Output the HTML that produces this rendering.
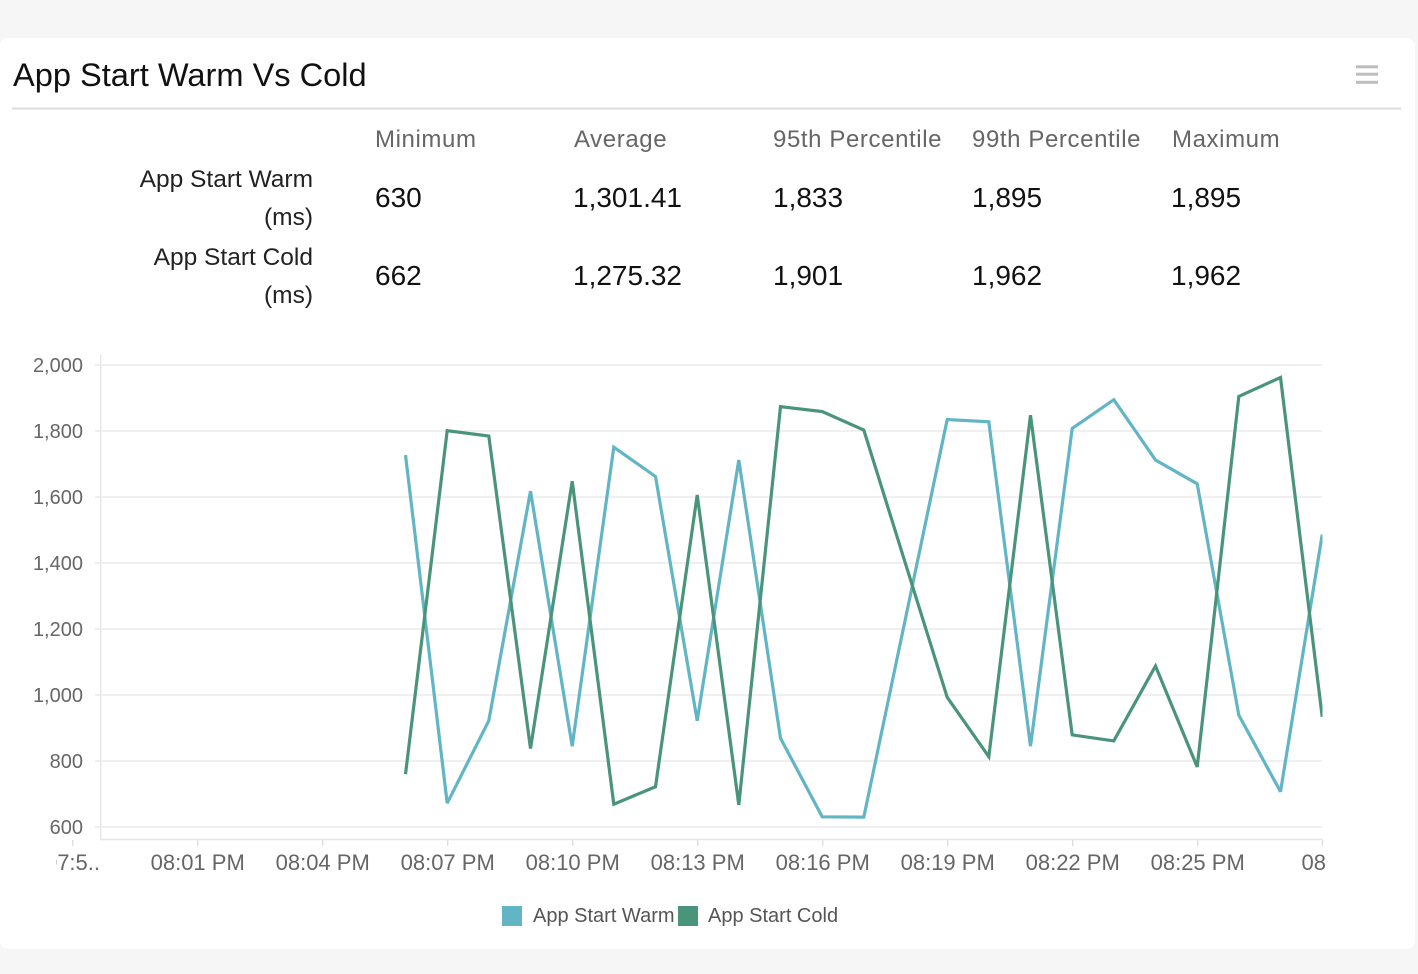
<!DOCTYPE html>
<html>
<head>
<meta charset="utf-8">
<style>
  html, body { margin:0; padding:0; background:#f6f6f6; }
  body { width:1418px; height:974px; overflow:hidden; }
  svg { display:block; }
  text { font-family: "Liberation Sans", sans-serif; }
</style>
</head>
<body>
<svg width="1418" height="974" viewBox="0 0 1418 974" xmlns="http://www.w3.org/2000/svg">
  <defs>
    <clipPath id="plotclip"><rect x="101" y="340" width="1221.5" height="500"/></clipPath>
    <clipPath id="leftlab"><rect x="56" y="840" width="60" height="40"/></clipPath>
  </defs>
  <rect x="0" y="0" width="1418" height="974" fill="#f6f6f6"/>
  <!-- card -->
  <rect x="0" y="38" width="1415" height="911" rx="8" ry="8" fill="#ffffff"/>

  <!-- title -->
  <text x="13" y="86" font-size="32.6" fill="#111">App Start Warm Vs Cold</text>
  <line x1="12" y1="108.5" x2="1401" y2="108.5" stroke="#dcdcdc" stroke-width="2"/>
  <!-- menu icon -->
  <rect x="1356" y="65.3" width="22" height="3" fill="#bdbdbd"/>
  <rect x="1356" y="72.7" width="22" height="3" fill="#bdbdbd"/>
  <rect x="1356" y="80.8" width="22" height="3" fill="#bdbdbd"/>

  <!-- table header -->
  <g font-size="24" fill="#666" letter-spacing="0.6">
    <text x="375" y="147">Minimum</text>
    <text x="574" y="147">Average</text>
    <text x="773" y="147">95th Percentile</text>
    <text x="972" y="147">99th Percentile</text>
    <text x="1172" y="147">Maximum</text>
  </g>
  <!-- row labels -->
  <g font-size="24.5" fill="#222" text-anchor="end">
    <text x="313" y="187">App Start Warm</text>
    <text x="313" y="225">(ms)</text>
    <text x="313" y="265">App Start Cold</text>
    <text x="313" y="303">(ms)</text>
  </g>
  <!-- values -->
  <g font-size="28" fill="#111">
    <text x="375" y="207">630</text>
    <text x="573" y="207">1,301.41</text>
    <text x="773" y="207">1,833</text>
    <text x="972" y="207">1,895</text>
    <text x="1171" y="207">1,895</text>
    <text x="375" y="285">662</text>
    <text x="573" y="285">1,275.32</text>
    <text x="773" y="285">1,901</text>
    <text x="972" y="285">1,962</text>
    <text x="1171" y="285">1,962</text>
  </g>

  <!-- gridlines -->
  <g stroke="#ebebeb" stroke-width="1.5">
    <line x1="95" y1="365" x2="1322" y2="365"/>
    <line x1="95" y1="431" x2="1322" y2="431"/>
    <line x1="95" y1="497" x2="1322" y2="497"/>
    <line x1="95" y1="563" x2="1322" y2="563"/>
    <line x1="95" y1="629" x2="1322" y2="629"/>
    <line x1="95" y1="695" x2="1322" y2="695"/>
    <line x1="95" y1="761" x2="1322" y2="761"/>
    <line x1="95" y1="827" x2="1322" y2="827"/>
  </g>
  <!-- axes -->
  <line x1="100.7" y1="355" x2="100.7" y2="840" stroke="#e6e6e6" stroke-width="1.5"/>
  <line x1="100" y1="839.5" x2="1323" y2="839.5" stroke="#e6e6e6" stroke-width="1.5"/>
  <g stroke="#e0e0e0" stroke-width="1.5">
    <line x1="72.7" y1="840" x2="72.7" y2="846"/>
    <line x1="197.7" y1="840" x2="197.7" y2="846"/>
    <line x1="322.7" y1="840" x2="322.7" y2="846"/>
    <line x1="447.7" y1="840" x2="447.7" y2="846"/>
    <line x1="572.7" y1="840" x2="572.7" y2="846"/>
    <line x1="697.7" y1="840" x2="697.7" y2="846"/>
    <line x1="822.7" y1="840" x2="822.7" y2="846"/>
    <line x1="947.7" y1="840" x2="947.7" y2="846"/>
    <line x1="1072.7" y1="840" x2="1072.7" y2="846"/>
    <line x1="1197.7" y1="840" x2="1197.7" y2="846"/>
    <line x1="1322.5" y1="840" x2="1322.5" y2="846"/>
  </g>

  <!-- y labels -->
  <g font-size="20" fill="#666" text-anchor="end">
    <text x="83" y="372">2,000</text>
    <text x="83" y="438">1,800</text>
    <text x="83" y="504">1,600</text>
    <text x="83" y="570">1,400</text>
    <text x="83" y="636">1,200</text>
    <text x="83" y="702">1,000</text>
    <text x="83" y="768">800</text>
    <text x="83" y="834">600</text>
  </g>

  <!-- x labels -->
  <g font-size="22" fill="#666" text-anchor="middle">
    <text x="100" y="870" text-anchor="end" clip-path="url(#leftlab)">07:5..</text>
    <text x="197.7" y="870">08:01 PM</text>
    <text x="322.7" y="870">08:04 PM</text>
    <text x="447.7" y="870">08:07 PM</text>
    <text x="572.7" y="870">08:10 PM</text>
    <text x="697.7" y="870">08:13 PM</text>
    <text x="822.7" y="870">08:16 PM</text>
    <text x="947.7" y="870">08:19 PM</text>
    <text x="1072.7" y="870">08:22 PM</text>
    <text x="1197.7" y="870">08:25 PM</text>
    <text x="1301.5" y="870" text-anchor="start">08</text>
  </g>

  <!-- series -->
  <g clip-path="url(#plotclip)" fill="none" stroke-width="3.2" stroke-linejoin="miter" stroke-miterlimit="3">
    <polyline stroke="#62b5c5" points="405.5,455.1 447.2,803.2 488.8,720.7 530.5,491.1 572.2,746.2 613.8,447.2 655.5,476.5 697.2,720.7 738.8,460.0 780.5,738.2 822.2,816.8 863.8,817.1 905.5,618.4 947.2,419.5 988.8,421.8 1030.5,746.2 1072.2,428.4 1113.8,399.7 1155.5,460.0 1197.2,483.8 1238.8,715.1 1280.5,791.7 1322.2,534.6"/>
    <polyline stroke="#4a9479" points="405.5,774.2 447.2,430.7 488.8,436.0 530.5,748.5 572.2,481.2 613.8,804.2 655.5,786.7 697.2,495.0 738.8,804.9 780.5,406.6 822.2,411.5 863.8,430.0 905.5,563.7 947.2,697.3 988.8,756.7 1030.5,415.2 1072.2,734.9 1113.8,740.9 1155.5,666.0 1197.2,766.9 1238.8,396.4 1280.5,377.5 1322.2,716.8"/>
  </g>

  <!-- legend -->
  <rect x="502" y="906" width="20" height="20" fill="#62b5c5"/>
  <text x="533" y="922" font-size="20" fill="#555">App Start Warm</text>
  <rect x="678" y="906" width="20" height="20" fill="#4a9479"/>
  <text x="708" y="922" font-size="20" fill="#555">App Start Cold</text>
</svg>
</body>
</html>
